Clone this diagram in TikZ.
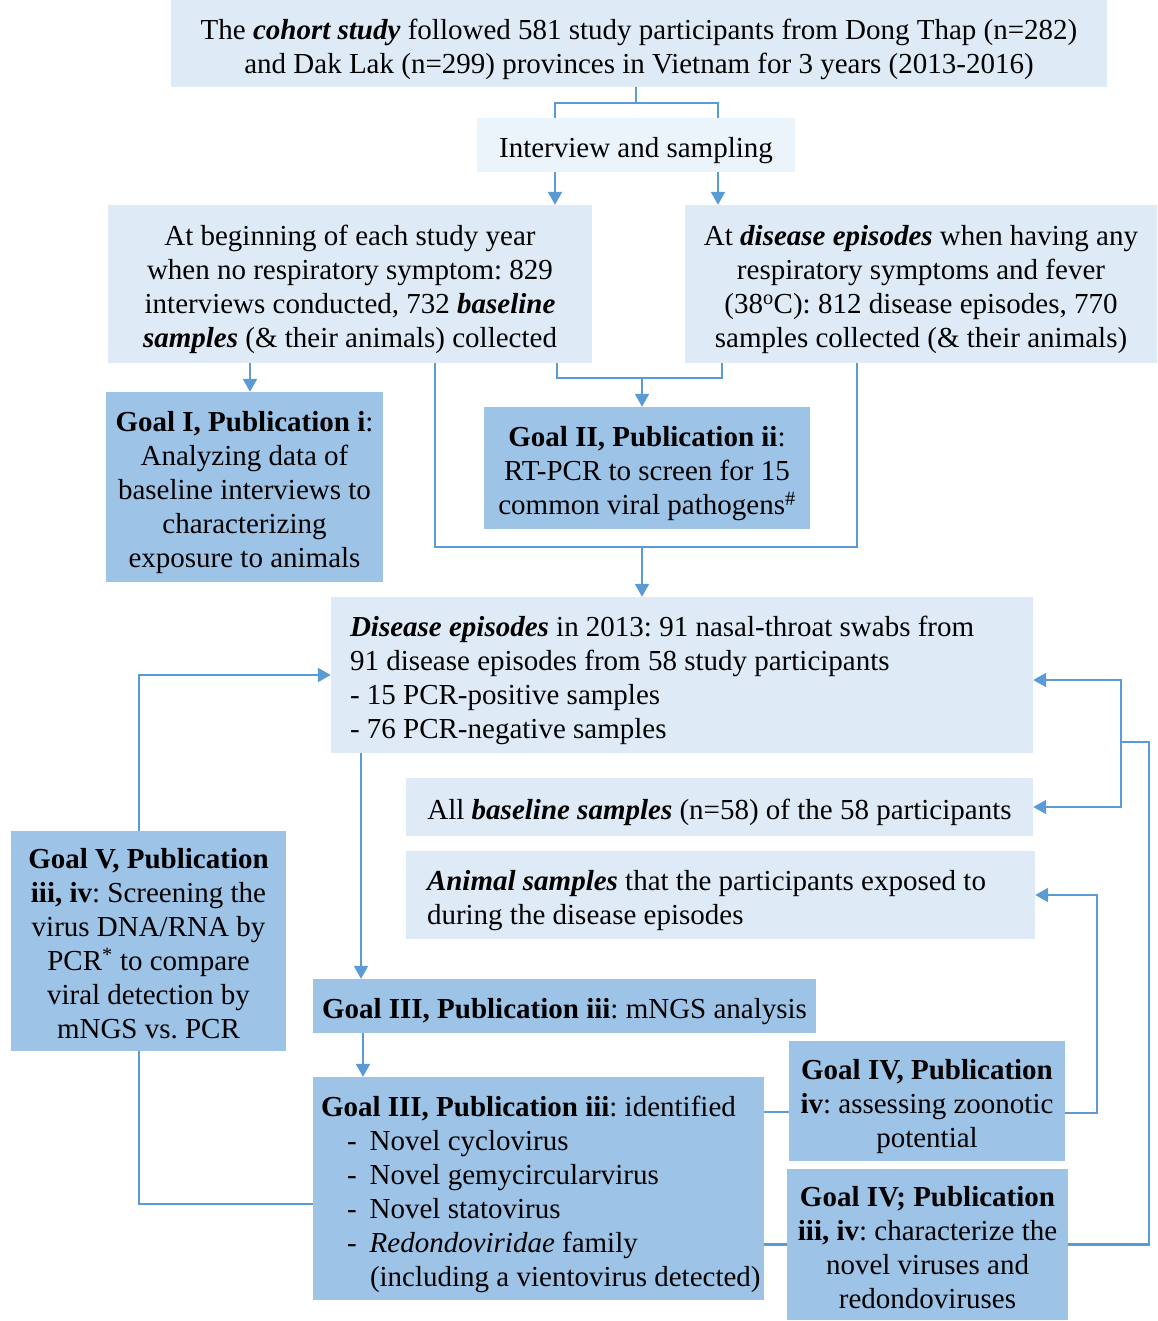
\documentclass[tikz,border=0pt]{standalone}
\usepackage{fontspec}
\setmainfont{Liberation Serif}
\usepackage{tikz}
\usetikzlibrary{arrows.meta}

\definecolor{palebox}{HTML}{DEEBF7}
\definecolor{palerbox}{HTML}{EBF3FB}
\definecolor{deepbox}{HTML}{9DC3E6}
\definecolor{linkblue}{HTML}{5B9BD5}
\tikzset{
  struts/.style={execute at begin node={\rule{0pt}{35pt}}, execute at end node={\rule[-9.5pt]{0pt}{0pt}}},
  box/.style 2 args={minimum width=#1, text width=#1, minimum height=#2},
  pale/.style={fill=palebox, inner sep=0pt, align=flush center, struts},
  deep/.style={fill=deepbox, inner sep=0pt, align=flush center, struts},
  link/.style={draw=linkblue, line width=2.2pt},
  arr/.style={link, -{Triangle[width=14pt,length=13pt]}},
  twoway/.style={link, {Triangle[width=14pt,length=13pt]}-{Triangle[width=14pt,length=13pt]}},
}
\newcommand{\bi}[1]{\textbf{\textit{#1}}}
\newcommand{\virusitem}[1]{\hspace*{26pt}-\hspace*{13pt}#1}

\begin{document}
\begin{tikzpicture}[x=1pt,y=-1pt,font=\fontsize{29}{34}\selectfont\frenchspacing]
\useasboundingbox (0,0) rectangle (1157,1321);

\node[pale, box={936pt}{87pt}] (cohort) at (639,43.5)
  {The \bi{cohort study} followed 581 study participants from Dong Thap (n=282)\\
   and Dak Lak (n=299) provinces in Vietnam for 3 years (2013-2016)};
\node[pale, fill=palerbox, box={318pt}{54pt}] (interview) at (636,145)
  {Interview and sampling};
\node[pale, box={484pt}{158pt}] (yearly) at (350,284)
  {At beginning of each study year\\ when no respiratory symptom: 829\\
   interviews conducted, 732 \bi{baseline}\\ \bi{samples} (\& their animals) collected};
\node[pale, box={472pt}{158pt}] (episode) at (921,284)
  {At \bi{disease episodes} when having any\\ respiratory symptoms and fever\\
   (38\textsuperscript{o}C): 812 disease episodes, 770\\ samples collected (\& their animals)};
\node[deep, box={277pt}{190pt}] (goalI) at (244.5,487)
  {\textbf{Goal I, Publication i}:\\ Analyzing data of\\ baseline interviews to\\
   characterizing\\ exposure to animals};
\node[deep, box={326pt}{122pt}] (goalII) at (647,468)
  {\textbf{Goal II, Publication ii}:\\ RT-PCR to screen for 15\\
   common viral pathogens\textsuperscript{\#}};
\node[pale, box={702pt}{156pt}, inner xsep=19pt, text width=664pt, align=flush left] (swabs) at (682,675)
  {\bi{Disease episodes} in 2013: 91 nasal-throat swabs from\\
   91 disease episodes from 58 study participants\\
   - 15 PCR-positive samples\\ - 76 PCR-negative samples};
\node[pale, box={627pt}{58pt}] (basesmp) at (719.5,807)
  {All \bi{baseline samples} (n=58) of the 58 participants};
\node[pale, box={629pt}{88pt}, inner xsep=21pt, text width=587pt, align=flush left] (animals) at (720.5,895)
  {\bi{Animal samples} that the participants exposed to\\ during the disease episodes};
\node[deep, box={275pt}{220pt}] (goalV) at (148.5,941)
  {\textbf{Goal V, Publication}\\ \textbf{iii, iv}: Screening the\\ virus DNA/RNA by\\
   PCR\textsuperscript{*} to compare\\ viral detection by\\ mNGS vs. PCR};
\node[deep, box={503pt}{54pt}] (mngs) at (564.5,1006)
  {\textbf{Goal III, Publication iii}: mNGS analysis};
\node[deep, box={451pt}{223pt}, inner xsep=8pt, text width=435pt, align=flush left] (novel) at (538.5,1188.5)
  {\textbf{Goal III, Publication iii}: identified\\
   \virusitem{Novel cyclovirus}\\ \virusitem{Novel gemycircularvirus}\\
   \virusitem{Novel statovirus}\\ \virusitem{\textit{Redondoviridae} family}\\
   \hspace*{49pt}\mbox{(including a vientovirus detected)}};
\node[deep, box={276pt}{120pt}] (zoonotic) at (927,1101)
  {\textbf{Goal IV, Publication}\\ \textbf{iv}: assessing zoonotic\\ potential};
\node[deep, box={281pt}{151pt}] (charact) at (927.5,1244.5)
  {\textbf{Goal IV; Publication}\\ \textbf{iii, iv}: characterize the\\
   novel viruses and\\ redondoviruses};

\coordinate (tsplit) at (636,103);
\coordinate (tleft) at (555,103);
\coordinate (tright) at (718,103);
\draw[link] (cohort.south -| tsplit) -- (tsplit);
\draw[link] (interview.north -| tleft) -- (tleft) -- (tright) -- (interview.north -| tright);
\draw[arr] (interview.south -| tleft) -- (yearly.north -| tleft);
\draw[arr] (interview.south -| tright) -- (episode.north -| tright);
\draw[arr] (yearly.south -| 250,0) -- (goalI.north -| 250,0);

\coordinate (gleft) at (557,378);
\coordinate (gright) at (722,378);
\coordinate (gmid) at (642,378);
\draw[link] (yearly.south -| gleft) -- (gleft) -- (gright) -- (episode.south -| gright);
\draw[arr] (gmid) -- (goalII.north -| gmid);

\coordinate (bleft) at (435,547);
\coordinate (bright) at (857,547);
\coordinate (bmid) at (642,547);
\draw[link] (yearly.south -| bleft) -- (bleft) -- (bright) -- (episode.south -| bright);
\draw[arr] (bmid) -- (swabs.north -| bmid);

\draw[arr] (swabs.south -| 361,0) -- (mngs.north -| 361,0);
\draw[arr] (mngs.south -| 363,0) -- (novel.north -| 363,0);
\draw[arr] (goalV.north -| 139,0) |- (swabs.west);
\draw[link] (goalV.south -| 139,0) |- (novel.west |- 0,1204);
\draw[link] (novel.east |- 0,1112) -- (zoonotic.west |- 0,1112);
\draw[link] (novel.east |- charact.west) -- (charact.west);

\coordinate (zbend) at (1097,895);
\draw[arr] (zoonotic.east |- 0,1113) -| (zbend) -- (animals.east);
\coordinate (cbend) at (1149,742);
\coordinate (cbus) at (1121,742);
\draw[link] (charact.east) -| (cbend) -- (cbus);
\draw[twoway] (swabs.east |- 0,680) -| (cbus) |- (basesmp.east);
\end{tikzpicture}
\end{document}
